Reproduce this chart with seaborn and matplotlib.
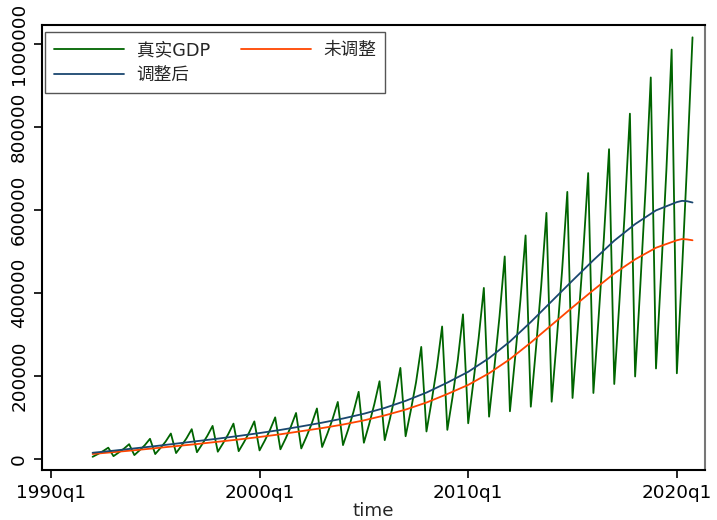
import matplotlib
matplotlib.use("Agg")
import matplotlib.pyplot as plt
import numpy as np
import pandas as pd
import seaborn as sns

# quarterly cumulative GDP (q1, q1-2, q1-3, full year), one entry per year
years = list(range(1992, 2021))
gdp_q1 = [5263, 6835, 9376, 11859, 14261, 16257, 17501, 18790, 20647, 23300,
          25376, 28862, 33421, 39118, 45316, 54756, 66285, 70094, 86000, 102000,
          115000, 126000, 138000, 147000, 159000, 180683, 198783, 218063, 206504]
gdp_h1 = [11760, 15558, 20801, 26374, 31388, 35525, 37785, 40102, 44101, 49207,
          53815, 60887, 71286, 83221, 97108, 117019, 140278, 149284, 186000, 219000,
          245000, 268000, 291000, 313000, 340637, 381490, 418961, 450933, 456614]
gdp_q3 = [18994, 24782, 33207, 42029, 49864, 56029, 59812, 63553, 69938, 77639,
          85163, 96220, 113182, 131848, 153555, 184797, 220939, 238008, 291000, 343000,
          381000, 418000, 454000, 487000, 529971, 593288, 650899, 697798, 722786]
gdp_year = [27194, 35673, 48638, 61340, 71814, 79715, 85196, 90564, 100280, 110863,
            121717, 137422, 161840, 187319, 219439, 270092, 319245, 348518, 412119, 487940,
            538580, 592963, 643563, 688858, 746395, 832036, 919281, 986515, 1015986]

# smooth trend curves read at each year's q1, plus the last quarters of 2020
trend_time = [f"{y}q1" for y in years] + ["2020q2", "2020q3", "2020q4"]
trend_raw = [12000, 16500, 21000, 26000, 31000, 36000, 41500, 47000, 53000, 59500,
             67000, 74500, 83000, 93000, 105000, 119000, 136000, 156500, 178500, 206500,
             240500, 280500, 323000, 365500, 407000, 447000, 481000, 509000, 527000,
             530000, 529000, 527000]
trend_adj = [15000, 20000, 25500, 31000, 37000, 43000, 49000, 55500, 62500, 70000,
             78500, 87500, 97500, 109000, 123000, 140000, 160000, 184000, 210000, 243000,
             283000, 330000, 380000, 430000, 479000, 526000, 566000, 599000, 619000,
             622000, 621000, 618000]

xtick_labels = ["1990q1", "2000q1", "2010q1", "2020q1"]
ytick_values = [0, 200000, 400000, 600000, 800000, 1000000]


def qindex(label):
    """Stata style quarterly index (1960q1 = 0)."""
    y, q = label.split("q")
    return (int(y) - 1960) * 4 + int(q) - 1


rows = []
for i, y in enumerate(years):
    for q, v in enumerate([gdp_q1[i], gdp_h1[i], gdp_q3[i], gdp_year[i]]):
        rows.append({"t": qindex(f"{y}q{q + 1}"), "gdp": v})
gdp_df = pd.DataFrame(rows)

trend_df = pd.DataFrame({
    "t": [qindex(s) for s in trend_time],
    "raw": trend_raw,
    "adj": trend_adj,
})

sns.set_style("white")
plt.rcParams['font.family'] = ['DejaVu Sans', 'Noto Sans CJK SC']

fig = plt.figure(figsize=(7.17, 5.20), dpi=100)
ax = fig.add_axes([0.0586, 0.0962, 0.9247, 0.8558])

green, orange, navy = "#006400", "#FF4500", "#1A476F"
sns.lineplot(data=gdp_df, x="t", y="gdp", color=green, linewidth=1.3,
             label="真实GDP", ax=ax)
sns.lineplot(data=trend_df, x="t", y="raw", color=orange, linewidth=1.3,
             label="未调整", ax=ax)
sns.lineplot(data=trend_df, x="t", y="adj", color=navy, linewidth=1.3,
             label="调整后", ax=ax)

ax.set_xlim(118.3, 245.4)
ax.set_ylim(-26500, 1045800)

ax.set_xticks([qindex(s) for s in xtick_labels])
ax.set_xticklabels(xtick_labels, fontsize=13.2)
ax.set_yticks(ytick_values)
ax.set_yticklabels([str(v) for v in ytick_values], fontsize=13.2,
                   rotation=90, va="center")
ax.tick_params(axis="both", direction="out", length=6, width=1.2, colors="black",
               bottom=True, left=True, pad=4)

ax.set_xlabel("time", fontsize=13.2, labelpad=0)
ax.set_ylabel("")

for side in ["left", "bottom", "top"]:
    ax.spines[side].set_color("black")
    ax.spines[side].set_linewidth(1.5)
ax.spines["right"].set_color("#777777")
ax.spines["right"].set_linewidth(1.5)

handles, labels = ax.get_legend_handles_labels()
order = [0, 2, 1]
leg = ax.legend([handles[i] for i in order], [labels[i] for i in order],
                ncol=2, loc="upper left", bbox_to_anchor=(0.0045, 0.984),
                borderaxespad=0, fontsize=12.7, handlelength=4.0, handletextpad=0.7,
                columnspacing=1.75, fancybox=False, framealpha=1, borderpad=0.5,
                labelspacing=0.42)
leg.get_frame().set_edgecolor("#555555")
leg.get_frame().set_linewidth(1.0)

plt.savefig("out.png", dpi=100)
plt.close()
